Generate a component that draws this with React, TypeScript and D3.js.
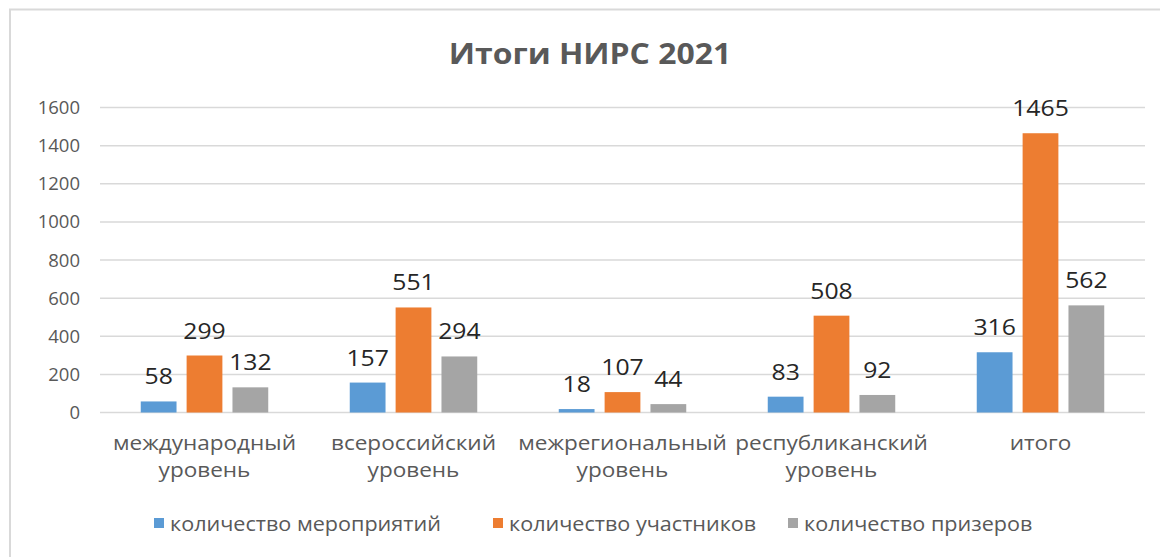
import React, { useEffect, useRef } from 'react';
import * as d3 from 'd3';

const categories = [
  ['международный', 'уровень'],
  ['всероссийский', 'уровень'],
  ['межрегиональный', 'уровень'],
  ['республиканский', 'уровень'],
  ['итого'],
];
const seriesNames = ['количество мероприятий', 'количество участников', 'количество призеров'];
const events = [58, 157, 18, 83, 316];
const participants = [299, 551, 107, 508, 1465];
const winners = [132, 294, 44, 92, 562];
const yTicks = [0, 200, 400, 600, 800, 1000, 1200, 1400, 1600];
const colors = ['#5B9BD5', '#ED7D31', '#A5A5A5'];

const W = 1160;
const H = 557;
const FONT = '"Open Sans", "Noto Sans", sans-serif';

const App = () => {
  const svgRef = useRef<SVGSVGElement>(null);

  useEffect(() => {
    const svg = d3.select(svgRef.current);
    svg.selectAll('*').remove();

    const series = [events, participants, winners];
    const left = 100;
    const right = 1145;

    const x0 = d3.scaleBand<number>().domain(d3.range(categories.length)).range([left, right]).paddingInner(0.39).paddingOuter(0.195);
    const x1 = d3.scaleBand<number>().domain([0, 1, 2]).range([0, x0.bandwidth()]).paddingInner(0.22);
    const y = d3.scaleLinear().domain([0, 1600]).range([412.5, 107.5]);

    // text stretched a bit horizontally, like the source picture
    const label = (g, x, yy, sx, size, txt, color, anchor = 'middle', weight = 'normal') =>
      g.append('text')
        .attr('transform', `translate(${x},${yy}) scale(${sx},1)`)
        .attr('text-anchor', anchor)
        .style('font-family', FONT).style('font-size', `${size}px`).style('font-weight', weight)
        .style('fill', color)
        .text(txt);

    svg.append('rect').attr('width', W).attr('height', H).attr('fill', '#fff');

    // chart border (only left and top edges visible)
    svg.append('path').attr('d', `M10,${H} L10,9.5 L${W},9.5`).attr('fill', 'none').attr('stroke', '#D9D9D9').attr('stroke-width', 2);

    label(svg, 590, 64, 1.1, 29, 'Итоги НИРС 2021', '#595959', 'middle', 'bold');

    const grid = svg.append('g');
    grid.selectAll('line').data(yTicks).enter().append('line')
      .attr('x1', left).attr('x2', right)
      .attr('y1', (d) => y(d)).attr('y2', (d) => y(d))
      .attr('stroke', '#D9D9D9').attr('stroke-width', 1.5);

    yTicks.forEach((t) => label(grid, 80, y(t) + 6.5, 1, 18.5, t, '#595959', 'end'));

    series.forEach((vals, s) => {
      const g = svg.append('g');
      g.selectAll('rect').data(vals).enter().append('rect')
        .attr('x', (d, i) => x0(i)! + x1(s)!)
        .attr('width', x1.bandwidth())
        .attr('y', (d) => y(d))
        .attr('height', (d) => y(0) - y(d))
        .attr('fill', colors[s]);
      vals.forEach((v, i) => label(g, x0(i)! + x1(s)! + x1.bandwidth() / 2, y(v) - 17, 1.1, 22.5, v, '#262626'));
    });

    const cat = svg.append('g');
    categories.forEach((lines, i) => {
      lines.forEach((line, j) => label(cat, x0(i)! + x0.bandwidth() / 2, 450 + j * 27, 1.1, 20.5, line, '#595959'));
    });

    const legendX = [154, 493, 788];
    const legend = svg.append('g');
    seriesNames.forEach((name, i) => {
      legend.append('rect').attr('x', legendX[i]).attr('y', 518).attr('width', 10).attr('height', 10).attr('fill', colors[i]);
      label(legend, legendX[i] + 16, 531, 1.08, 20, name, '#595959', 'start');
    });
  }, []);

  return (
    <svg ref={svgRef} width={W} height={H} style={{ position: 'absolute', top: 0, left: 0, display: 'block' }} />
  );
};

export default App;
